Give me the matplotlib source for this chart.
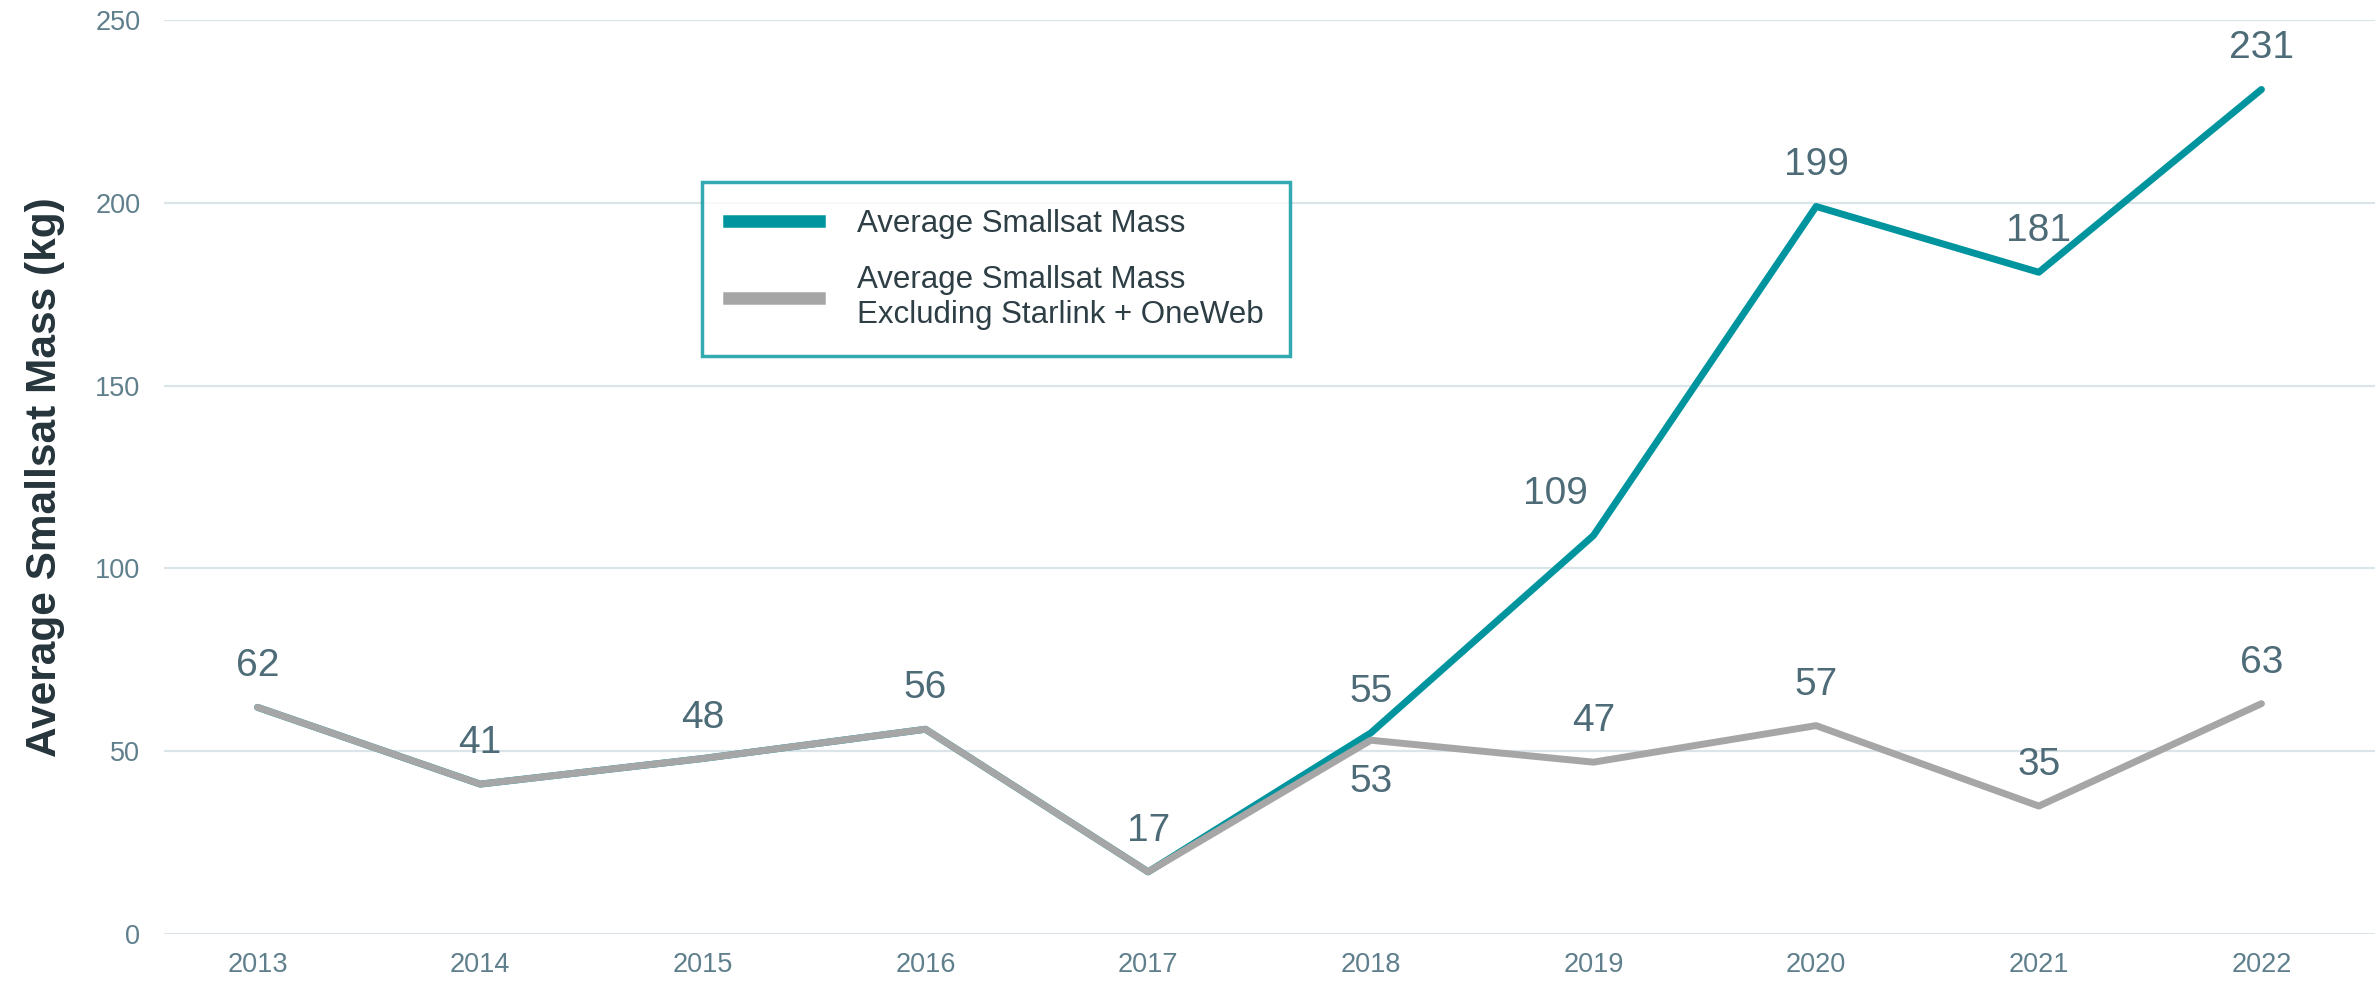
import matplotlib.pyplot as plt
from matplotlib.lines import Line2D

plt.rcParams['font.family'] = ['Liberation Sans', 'DejaVu Sans']

# --- Данные ---
years = ['2013', '2014', '2015', '2016', '2017', '2018', '2019', '2020', '2021', '2022']
avg_mass = [62, 41, 48, 56, 17, 55, 109, 199, 181, 231]
avg_mass_excl = [62, 41, 48, 56, 17, 53, 47, 57, 35, 63]

TEAL = '#00959e'
GREY = '#a6a6a6'
LABEL_C = '#4e6b78'
TICK_C = '#5f7f8c'
GRID_C = '#dbe4e8'

W, H = 2379, 984
fig = plt.figure(figsize=(W / 100, H / 100), dpi=100)
ax = fig.add_axes([164 / W, 1 - 934 / H, (2375 - 164) / W, (934 - 20) / H])

x = list(range(len(years)))
ax.plot(x, avg_mass, color=TEAL, lw=5, solid_capstyle='round', solid_joinstyle='round', zorder=3)
ax.plot(x, avg_mass_excl, color=GREY, lw=5, solid_capstyle='round', solid_joinstyle='round', zorder=4)

ax.set_xlim(-0.42, 9.51)
ax.set_ylim(0, 250)
ax.set_yticks(range(0, 251, 50))
ax.set_xticks(x)
ax.set_xticklabels(years)
ax.tick_params(axis='both', length=0, labelsize=19.5, colors=TICK_C)
ax.tick_params(axis='x', pad=13)
ax.tick_params(axis='y', pad=17)
ax.grid(axis='y', color=GRID_C, lw=1.6)
ax.set_axisbelow(True)
for s in ax.spines.values():
    s.set_visible(False)

ax.set_ylabel('Average Smallsat Mass (kg)', fontsize=30.5, fontweight='bold', color='#26343b')
ax.yaxis.set_label_coords(-0.045, 0.5)

# подписи значений
for i, v in enumerate(avg_mass_excl):
    dy = -42 if i == 5 else 41
    ax.annotate(str(v), (i, v), xytext=(0, dy), textcoords='offset pixels',
                ha='center', va='center', fontsize=28, color=LABEL_C)
for i, v in enumerate(avg_mass):
    if i < 5:
        continue
    dx = -38 if i == 6 else 0
    ax.annotate(str(v), (i, v), xytext=(dx, 41), textcoords='offset pixels',
                ha='center', va='center', fontsize=28, color=LABEL_C)

handles = [Line2D([], [], color=TEAL, lw=9), Line2D([], [], color=GREY, lw=9)]
leg = ax.legend(handles, ['Average Smallsat Mass', 'Average Smallsat Mass\nExcluding Starlink + OneWeb'],
                loc='upper left', bbox_to_anchor=((702 - 164) / (2375 - 164), 1 - (182 - 20) / (934 - 20)),
                fontsize=22.5, frameon=True, fancybox=False, handlelength=2.9, handletextpad=1.2,
                borderpad=0.85, labelspacing=0.85, labelcolor='#2d3e45', borderaxespad=0)
leg.get_frame().set_edgecolor(TEAL)
leg.get_frame().set_linewidth(2.5)

fig.savefig('out.png', dpi=100)
